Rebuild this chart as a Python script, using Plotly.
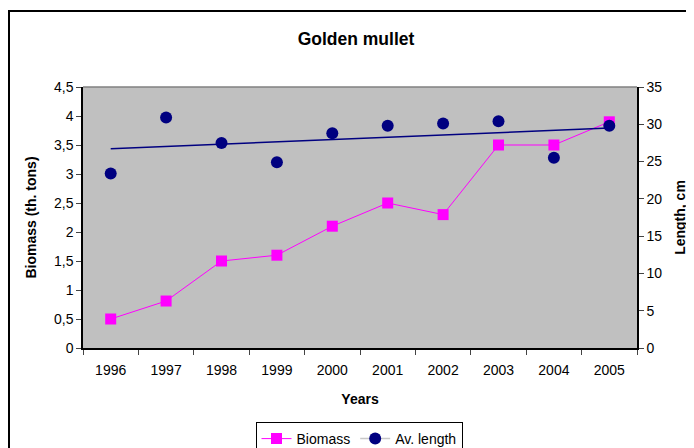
import numpy as np
import plotly.graph_objects as go

years = ["1996", "1997", "1998", "1999", "2000", "2001", "2002", "2003", "2004", "2005"]
biomass = [0.5, 0.81, 1.5, 1.6, 2.1, 2.5, 2.3, 3.5, 3.5, 3.9]
av_length = [23.4, 30.9, 27.5, 24.9, 28.8, 29.8, 30.1, 30.4, 25.5, 29.8]

FONT = "Liberation Sans, Arial, sans-serif"
W, H = 694, 448
OFF = 8  # page body margin
PL, PR, PT, PB = 83 - OFF, 637 - OFF, 87 - OFF, 348 - OFF
PW, PH = PR - PL, PB - PT


def px(xp):
    return (xp - OFF - PL) / PW


def py(yp):
    return (PB - (yp - OFF)) / PH


# linear trend of av. length
xi = np.arange(1, len(years) + 1)
k, b = np.polyfit(xi, av_length, 1)
trend_y = [k * xi[0] + b, k * xi[-1] + b]

# interleave gaps so the length series shows no connecting lines
len_x = [yr for yr in years for _ in (0, 1)]
len_y = [v for val in av_length for v in (val, None)]

fig = go.Figure()
fig.add_trace(go.Scatter(
    x=years, y=biomass, name="Biomass", mode="lines+markers",
    line=dict(color="#FF00FF", width=1),
    marker=dict(symbol="square", size=11, color="#FF00FF"),
    yaxis="y", cliponaxis=False))
fig.add_trace(go.Scatter(
    x=[years[0], years[-1]], y=trend_y, mode="lines", showlegend=False,
    line=dict(color="#000080", width=1.5), yaxis="y2"))
fig.add_trace(go.Scatter(
    x=len_x, y=len_y, name="Av. length", mode="lines+markers",
    connectgaps=False,
    line=dict(color="#C8C8C8", width=1.5),
    marker=dict(symbol="circle", size=12, color="#000080"),
    yaxis="y2", cliponaxis=False))

fig.update_layout(
    width=W, height=H,
    margin=dict(l=PL, r=W - PR, t=PT, b=H - PB, autoexpand=False),
    paper_bgcolor="white", plot_bgcolor="#C0C0C0",
    separators=", ",
    font=dict(family=FONT, size=14, color="black"),
    title=dict(text="<b>Golden mullet</b>", x=(356 - OFF) / W, xref="container",
               y=1 - (39 - OFF) / H, yref="container",
               xanchor="center", yanchor="middle", automargin=False,
               font=dict(size=17.5, family=FONT)),
    xaxis=dict(type="category", range=[-0.5, len(years) - 0.5],
               tickson="boundaries", ticks="outside", ticklen=5,
               ticklabelstandoff=8,
               showline=True, linecolor="black", linewidth=1.5, mirror=False,
               showgrid=False, tickfont=dict(size=14), automargin=False,
               title=dict(text="<b>Years</b>", font=dict(size=14), standoff=18)),
    yaxis=dict(range=[0, 4.5], dtick=0.5, tick0=0, ticks="outside", ticklen=5,
               tickformat=".1~f", automargin=False,
               showline=True, linecolor="black", linewidth=1.5, showgrid=False,
               zeroline=False, tickfont=dict(size=14),
               title=dict(text="<b>Biomass (th. tons)</b>", font=dict(size=14), standoff=14)),
    yaxis2=dict(range=[0, 35], dtick=5, tick0=0, overlaying="y", side="right",
                ticks="outside", ticklen=5, showline=True, linecolor="black", linewidth=1.5,
                showgrid=False, zeroline=False, automargin=False, tickfont=dict(size=14),
                title=dict(text="<b>Length, cm</b>", font=dict(size=14), standoff=14)),
    legend=dict(orientation="h", x=px(359), xanchor="center",
                y=py(422), yanchor="top",
                bordercolor="black", borderwidth=1, bgcolor="white",
                font=dict(size=14), itemwidth=30, tracegroupgap=0),
    showlegend=True,
    shapes=[
        dict(type="line", xref="paper", yref="paper", x0=0, x1=1, y0=1, y1=1,
             line=dict(color="#808080", width=1.5)),
        dict(type="rect", xref="paper", yref="paper",
             x0=px(9), x1=px(720), y0=py(480), y1=py(11),
             line=dict(color="black", width=2), fillcolor="rgba(0,0,0,0)", layer="below"),
    ],
)

fig.write_html("out.html")
